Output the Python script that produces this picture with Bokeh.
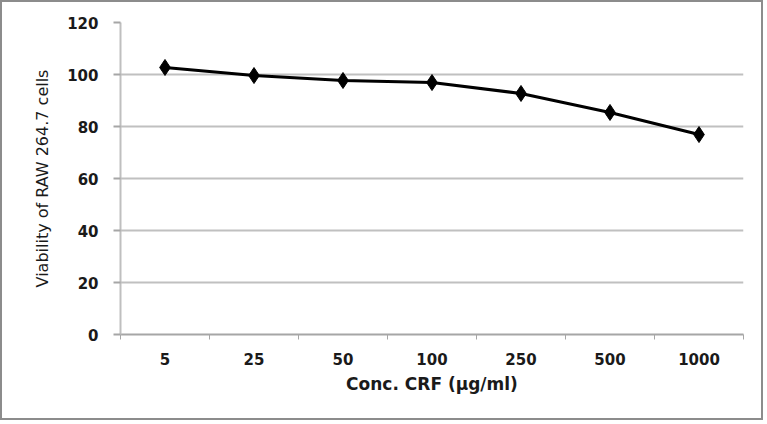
from bokeh.plotting import figure
from bokeh.models import FixedTicker, Range1d
from bokeh.embed import file_html
from bokeh.resources import INLINE

categories = ["5", "25", "50", "100", "250", "500", "1000"]
viability = [102.7, 99.6, 97.7, 96.9, 92.7, 85.4, 76.9]
y_ticks = [0, 20, 40, 60, 80, 100, 120]

xs = list(range(1, len(categories) + 1))

p = figure(width=763, height=420, output_backend="svg", toolbar_location=None,
           x_range=Range1d(0.5, len(categories) + 0.5), y_range=Range1d(0, 120),
           min_border_left=118, min_border_right=22, min_border_top=20, min_border_bottom=88)
p.styles = {"border": "2px solid #8c8c8c"}
p.outline_line_color = None
p.background_fill_color = "white"
p.border_fill_color = "white"

p.line(xs, viability, line_color="black", line_width=3)
p.scatter(xs, viability, marker="diamond", size=16, fill_color="black", line_color="black")

font = "DejaVu Sans"
xa = p.xaxis[0]
xa.ticker = FixedTicker(ticks=xs, minor_ticks=[x - 0.5 for x in xs] + [xs[-1] + 0.5])
xa.major_label_overrides = {x: c for x, c in zip(xs, categories)}
xa.major_tick_line_color = None
xa.major_tick_out = 0
xa.major_tick_in = 0
xa.minor_tick_line_color = "#a6a6a6"
xa.minor_tick_out = 5
xa.minor_tick_in = 0
xa.axis_line_color = "#a6a6a6"
xa.axis_line_width = 2
xa.major_label_standoff = 13
xa.axis_label = "Conc. CRF (µg/ml)"
xa.axis_label_standoff = 6

ya = p.yaxis[0]
ya.ticker = FixedTicker(ticks=y_ticks)
ya.major_tick_out = 7
ya.major_tick_in = 0
ya.major_tick_line_color = "#a6a6a6"
ya.major_tick_line_width = 2
ya.minor_tick_line_color = None
ya.axis_line_color = "#bfbfbf"
ya.axis_line_width = 2
ya.major_label_standoff = 15
ya.axis_label = "Viability of RAW 264.7 cells"
ya.axis_label_standoff = 12

for ax in (xa, ya):
    ax.major_label_text_font = font
    ax.major_label_text_font_size = "15px"
    ax.major_label_text_font_style = "bold"
    ax.major_label_text_color = "#1a1a1a"
    ax.axis_label_text_font = font
    ax.axis_label_text_font_size = "17px"
    ax.axis_label_text_font_style = "bold"
    ax.axis_label_text_color = "#1a1a1a"

ya.axis_label_text_font_size = "16px"
ya.axis_label_text_font_style = "normal"

p.xgrid.grid_line_color = None
p.ygrid.grid_line_color = "#c0c0c0"
p.ygrid.grid_line_width = 2
p.ygrid.ticker = FixedTicker(ticks=y_ticks[1:])

open("out.html", "w").write(file_html(p, INLINE))
